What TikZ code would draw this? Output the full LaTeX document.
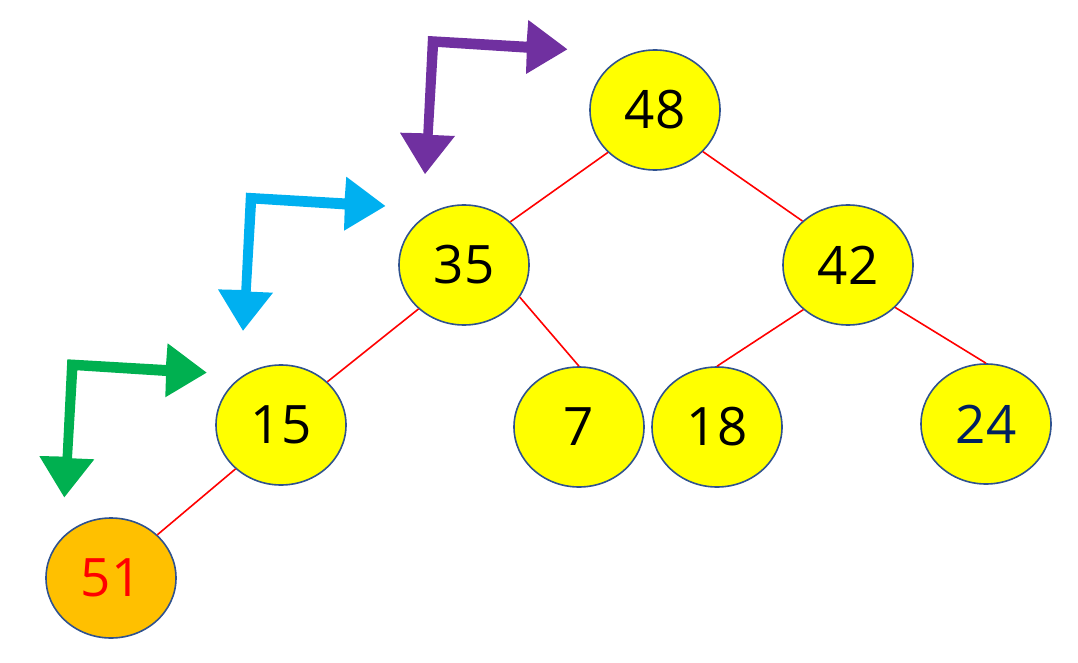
\documentclass[tikz,border=0pt]{standalone}
\usepackage{fontspec}
\setmainfont{Open Sans}
\usetikzlibrary{shapes.geometric}
\definecolor{nodeborder}{HTML}{2F528F}
\definecolor{nodeyellow}{HTML}{FFFF00}
\definecolor{nodeorange}{HTML}{FFC000}
\definecolor{edgered}{HTML}{FF0000}
\definecolor{navytext}{HTML}{002060}
\definecolor{arrowpurple}{HTML}{7030A0}
\definecolor{arrowblue}{HTML}{00B0F0}
\definecolor{arrowgreen}{HTML}{00B050}
\tikzset{
  heapnode/.style={ellipse, draw=nodeborder, line width=1.6pt, fill=nodeyellow,
    minimum width=130pt, minimum height=120pt, inner sep=0pt,
    font=\fontsize{53}{60}\selectfont},
  edge/.style={draw=edgered, line width=1.6pt},
  bentarrow/.pic={
    \fill[pic actions] (-3,138) -- (27,100) -- (4.7,99) -- (10,11) -- (98.7,16.7)
      -- (98,38) -- (139.3,13.3) -- (100.3,-16) -- (98.7,5.7) -- (0,0)
      -- (-4.7,97.3) -- (-28,96.7) -- cycle;
  }
}
\begin{document}
\begin{tikzpicture}[x=1pt,y=-1pt]
\useasboundingbox (0,0) rectangle (1078,663);
\node[heapnode] (n48) at (655,110) {48};
\node[heapnode] (n35) at (464,265) {35};
\node[heapnode] (n42) at (848,265) {42};
\node[heapnode] (n15) at (281,425) {15};
\node[heapnode] (n7) at (579,427) {7};
\node[heapnode] (n18) at (717,427) {18};
\node[heapnode, text=navytext] (n24) at (986,424) {24};
\node[heapnode, fill=nodeorange, text=edgered] (n51) at (111,578) {51};
\draw[edge] (n48.-138) -- (n35.43);
\draw[edge] (n48.-41) -- (n42.136);
\draw[edge] (n35.-136) -- (n15.43);
\draw[edge] (n35.-30) -- (n7.90);
\draw[edge] (n42.-135) -- (n18.90);
\draw[edge] (n42.-42) -- (n24.90);
\draw[edge] (n15.-136) -- (n51.43);
\pic[fill=arrowpurple] at (428,36) {bentarrow};
\pic[fill=arrowblue] at (246,192.7) {bentarrow};
\pic[fill=arrowgreen] at (67.3,359.3) {bentarrow};
\end{tikzpicture}
\end{document}
